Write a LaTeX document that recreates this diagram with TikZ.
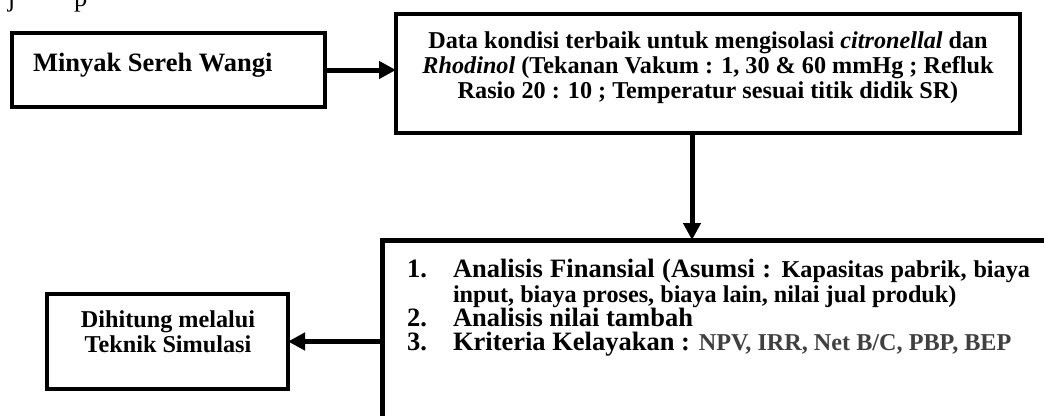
\documentclass[tikz,border=0pt]{standalone}
\usepackage{fontspec}
\setmainfont{Liberation Serif}
\usetikzlibrary{arrows.meta}
\newcommand{\myBig}{\fontsize{26.5}{30}\selectfont\bfseries}
\newcommand{\mySmall}{\fontsize{24.2}{28}\selectfont\bfseries}
\definecolor{txtgray}{gray}{0.25}
\begin{document}
\begin{tikzpicture}[x=1pt,y=-1pt,
  box/.style={draw,line width=4pt,inner sep=0pt,outer sep=0pt},
  lbl/.style={inner sep=0pt,outer sep=0pt},
  conn/.style={line width=5pt,-{Triangle[width=17pt,length=17pt]}}]
\useasboundingbox (0,0) rectangle (1044,415);
\clip (0,0) rectangle (1044,415);
% fragments of the text line above the diagram
\node[lbl,anchor=base west,font=\fontsize{26.5}{30}\selectfont] (fj) at (8,6) {j};
\node[lbl,anchor=base west,font=\fontsize{26.5}{30}\selectfont] (fp) at (74,6) {p};
% boxes
\node[box,minimum width=313pt,minimum height=74pt] (n1) at (168.5,70) {};
\node[box,minimum width=624pt,minimum height=119pt] (n2) at (708,73.5) {};
\node[box,line width=5pt,minimum width=718pt,minimum height=210pt] (n3) at (741,345) {};
\node[box,minimum width=241pt,minimum height=95pt] (n4) at (167.5,341.5) {};
% texts
\node[lbl,anchor=base west,font=\myBig] (t1) at (33,71) {Minyak Sereh Wangi};
\node[lbl,anchor=base,font=\mySmall] (t2a) at (708,48) {Data kondisi terbaik untuk mengisolasi \textit{citronellal} dan};
\node[lbl,anchor=base,font=\mySmall] (t2b) at (708,73) {\textit{Rhodinol} (Tekanan Vakum : 1, 30 \& 60 mmHg ; Refluk};
\node[lbl,anchor=base,font=\mySmall] (t2c) at (708,98) {Rasio 20 : 10 ; Temperatur sesuai titik didik SR)};
\node[lbl,anchor=base,font=\mySmall] (t4a) at (168,327) {Dihitung melalui};
\node[lbl,anchor=base,font=\mySmall] (t4b) at (168,352) {Teknik Simulasi};
\node[lbl,anchor=base west,font=\myBig] (k1) at (407,277) {1.};
\node[lbl,anchor=base west,font=\myBig] (k2) at (407,326) {2.};
\node[lbl,anchor=base west,font=\myBig] (k3) at (407,350) {3.};
\node[lbl,anchor=base west] (l1) at (453,277) {\makebox[577pt][s]{\myBig Analisis Finansial (Asumsi : \mySmall Kapasitas pabrik, biaya}};
\node[lbl,anchor=base west,font=\mySmall] (l2) at (453,302) {input, biaya proses, biaya lain, nilai jual produk)};
\node[lbl,anchor=base west,font=\myBig] (l3) at (453,326) {Analisis nilai tambah};
\node[lbl,anchor=base west] (l4) at (453,350) {\myBig Kriteria Kelayakan : {\mySmall\color{txtgray}NPV, IRR, Net B/C, PBP, BEP}};
% connectors
\coordinate (vx) at (692,0);
\draw[conn] (n1.east) -- (n1.east -| n2.west);
\draw[conn] (vx |- n2.south) -- (vx |- n3.north);
\draw[conn] (n4.east -| n3.west) -- (n4.east);
\end{tikzpicture}
\end{document}
